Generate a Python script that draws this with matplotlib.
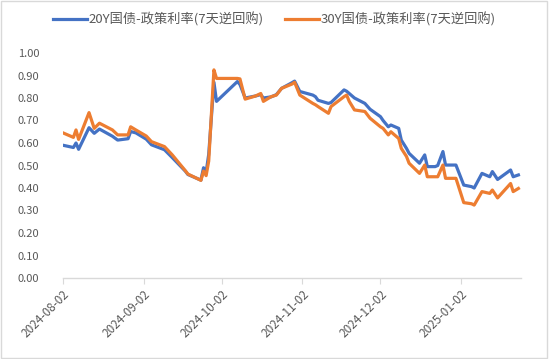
import numpy as np
import pandas as pd
import matplotlib
matplotlib.use("Agg")
import matplotlib.pyplot as plt
import matplotlib.dates as mdates
from matplotlib.patches import Rectangle

plt.rcParams['font.family'] = ['Noto Sans CJK SC', 'DejaVu Sans']

# spread of 20Y / 30Y government bond yields over the 7-day reverse repo rate (%)
dates = [
    "2024-08-02", "2024-08-06", "2024-08-07", "2024-08-08", "2024-08-12",
    "2024-08-14", "2024-08-16", "2024-08-21", "2024-08-23", "2024-08-27",
    "2024-08-28", "2024-08-30", "2024-09-03", "2024-09-05", "2024-09-10",
    "2024-09-13", "2024-09-18", "2024-09-19", "2024-09-24", "2024-09-25",
    "2024-09-26", "2024-09-27", "2024-09-29", "2024-09-30", "2024-10-08",
    "2024-10-09", "2024-10-11", "2024-10-15", "2024-10-17", "2024-10-18",
    "2024-10-21", "2024-10-23", "2024-10-25", "2024-10-29", "2024-10-30",
    "2024-11-01", "2024-11-06", "2024-11-07", "2024-11-08", "2024-11-12",
    "2024-11-13", "2024-11-18", "2024-11-19", "2024-11-20", "2024-11-22",
    "2024-11-26", "2024-11-28", "2024-12-02", "2024-12-03", "2024-12-05",
    "2024-12-06", "2024-12-09", "2024-12-10", "2024-12-12", "2024-12-13",
    "2024-12-17", "2024-12-19", "2024-12-20", "2024-12-23", "2024-12-24",
    "2024-12-26", "2024-12-27", "2024-12-31", "2025-01-03", "2025-01-06",
    "2025-01-07", "2025-01-10", "2025-01-13", "2025-01-14", "2025-01-16",
    "2025-01-21", "2025-01-22", "2025-01-24",
]
spread_20y = [
    0.590, 0.580, 0.600, 0.572, 0.668,
    0.643, 0.662, 0.630, 0.613, 0.619,
    0.651, 0.645, 0.617, 0.592, 0.570,
    0.535, 0.475, 0.460, 0.435, 0.490,
    0.470, 0.550, 0.870, 0.785, 0.873,
    0.860, 0.800, 0.809, 0.815, 0.800,
    0.805, 0.815, 0.843, 0.868, 0.875,
    0.829, 0.813, 0.806, 0.790, 0.776,
    0.780, 0.836, 0.830, 0.820, 0.800,
    0.776, 0.750, 0.717, 0.700, 0.672,
    0.680, 0.665, 0.613, 0.576, 0.554,
    0.510, 0.547, 0.495, 0.495, 0.500,
    0.562, 0.502, 0.502, 0.413, 0.406,
    0.400, 0.465, 0.450, 0.473, 0.438,
    0.480, 0.450, 0.458,
]
spread_30y = [
    0.645, 0.625, 0.658, 0.616, 0.735,
    0.665, 0.688, 0.658, 0.636, 0.636,
    0.672, 0.658, 0.631, 0.606, 0.584,
    0.547, 0.477, 0.462, 0.434, 0.475,
    0.455, 0.520, 0.925, 0.887, 0.887,
    0.885, 0.795, 0.809, 0.820, 0.785,
    0.806, 0.813, 0.843, 0.862, 0.870,
    0.813, 0.776, 0.770, 0.762, 0.732,
    0.762, 0.806, 0.813, 0.785, 0.747,
    0.740, 0.710, 0.672, 0.665, 0.636,
    0.650, 0.620, 0.576, 0.540, 0.510,
    0.465, 0.502, 0.450, 0.450, 0.450,
    0.502, 0.443, 0.443, 0.335, 0.330,
    0.324, 0.384, 0.376, 0.391, 0.356,
    0.420, 0.384, 0.398,
]
labels = ["20Y国债-政策利率(7天逆回购)", "30Y国债-政策利率(7天逆回购)"]
tick_dates = ["2024-08-02", "2024-09-02", "2024-10-02",
              "2024-11-02", "2024-12-02", "2025-01-02"]

x = pd.to_datetime(dates)
text_color = "#595959"
axis_color = "#D9D9D9"

fig = plt.figure(figsize=(5.49, 3.59), dpi=100)
ax = fig.add_axes([63 / 549, 1 - 278 / 359, (521 - 63) / 549, (278 - 53) / 359])

ax.plot(x, spread_20y, color="#4472C4", lw=2.3, label=labels[0], solid_joinstyle="round")
ax.plot(x, spread_30y, color="#ED7D31", lw=2.3, label=labels[1], solid_joinstyle="round")

ax.set_ylim(0, 1.0)
ax.set_yticks(np.arange(0, 1.01, 0.1))
ax.yaxis.set_major_formatter(matplotlib.ticker.FormatStrFormatter("%.2f"))
ax.set_xlim(pd.Timestamp("2024-08-02"), pd.Timestamp("2025-01-25"))
ax.set_xticks(pd.to_datetime(tick_dates))
ax.xaxis.set_major_formatter(mdates.DateFormatter("%Y-%m-%d"))
plt.setp(ax.get_xticklabels(), rotation=45, ha="right", rotation_mode="anchor")

for s in ["top", "right", "left"]:
    ax.spines[s].set_visible(False)
ax.spines["bottom"].set_color(axis_color)
ax.spines["bottom"].set_linewidth(1.0)
ax.tick_params(axis="y", length=0, labelsize=8, labelcolor=text_color, pad=17)
ax.tick_params(axis="x", length=4, color=axis_color, labelsize=8.5,
               labelcolor=text_color, pad=3)

ax.legend(loc="upper center", bbox_to_anchor=(0.5, 1.0), bbox_transform=fig.transFigure,
          ncol=2, frameon=False, fontsize=9.5, labelcolor=text_color,
          handlelength=2.6, handletextpad=0.1, columnspacing=1.6)

fig.patches.append(Rectangle((0.002, 0.003), 0.995, 0.993, transform=fig.transFigure,
                             fill=False, edgecolor=axis_color, lw=1.0))

fig.savefig("out.png", dpi=100)
